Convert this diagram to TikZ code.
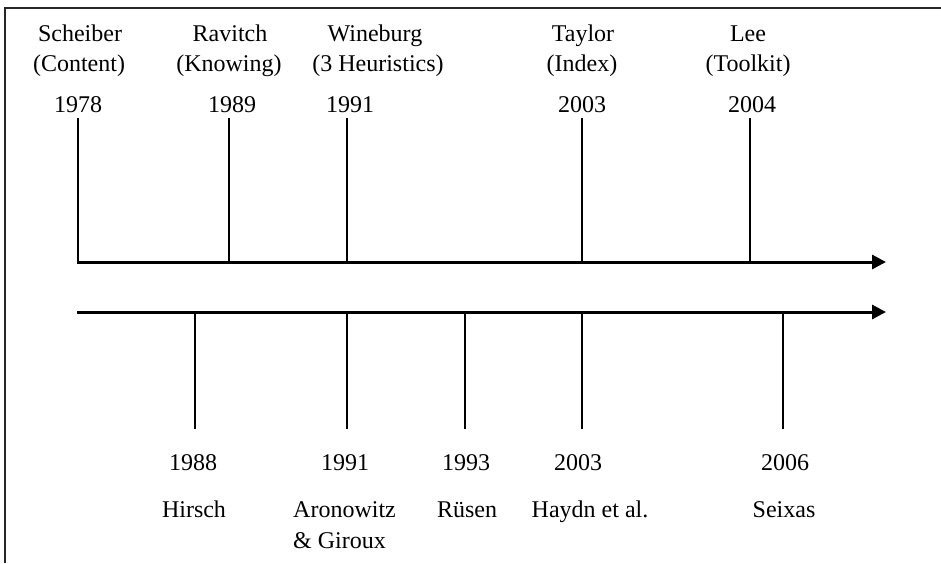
\documentclass[tikz,border=0pt]{standalone}
\usepackage{fontspec}
\setmainfont{Liberation Serif}
\usetikzlibrary{arrows.meta}
\begin{document}
\begin{tikzpicture}[x=1pt,y=-1pt,
  lbl/.style={anchor=base,inner sep=0pt,font=\fontsize{24}{30}\selectfont},
  axis/.style={line width=3pt,-{Triangle[length=14pt,width=14pt]}},
  tick/.style={line width=1.4pt},
  frame/.style={line width=2.4pt,black!85}]
\useasboundingbox (0,0) rectangle (941,563);
\draw[frame] (5,563) -- (5,8) -- (941,8);
% axes
\coordinate (ua) at (77,262);
\coordinate (ub) at (886,262);
\coordinate (la) at (77,312);
\coordinate (lb) at (886,312);
\draw[axis] (ua) -- (ub);
\draw[axis] (la) -- (lb);
% upper ticks
\foreach \n/\x in {t78/78,t89/229,t91/347,t03/582,t04/750}{
  \coordinate (\n a) at (\x,118);
  \coordinate (\n b) at (\x,262);
  \draw[tick] (\n a) -- (\n b);
}
% lower ticks
\foreach \n/\x in {b88/195,b91/347,b93/465,b03/582,b06/783}{
  \coordinate (\n a) at (\x,312);
  \coordinate (\n b) at (\x,429);
  \draw[tick] (\n a) -- (\n b);
}
% upper labels
\node[lbl] (n1) at (80,41) {Scheiber};
\node[lbl] (n1b) at (79,71) {(Content)};
\node[lbl] (y1) at (78,112) {1978};
\node[lbl] (n2) at (230,41) {Ravitch};
\node[lbl] (n2b) at (229,71) {(Knowing)};
\node[lbl] (y2) at (232,112) {1989};
\node[lbl] (n3) at (375,41) {Wineburg};
\node[lbl] (n3b) at (378,71) {(3 Heuristics)};
\node[lbl] (y3) at (350,112) {1991};
\node[lbl] (n4) at (583,41) {Taylor};
\node[lbl] (n4b) at (582,71) {(Index)};
\node[lbl] (y4) at (582,112) {2003};
\node[lbl] (n5) at (748,41) {Lee};
\node[lbl] (n5b) at (748,71) {(Toolkit)};
\node[lbl] (y5) at (752,112) {2004};
% lower labels
\node[lbl] (y6) at (193,470) {1988};
\node[lbl] (n6) at (194,517) {Hirsch};
\node[lbl] (y7) at (345,470) {1991};
\node[lbl,anchor=base west] (n7) at (293,517) {Aronowitz};
\node[lbl,anchor=base west] (n7b) at (293,548) {\& Giroux};
\node[lbl] (y8) at (466,470) {1993};
\node[lbl] (n8) at (467,517) {Rüsen};
\node[lbl] (y9) at (578,470) {2003};
\node[lbl] (n9) at (590,517) {Haydn et al.};
\node[lbl] (y10) at (785,470) {2006};
\node[lbl] (n10) at (784,517) {Seixas};
\end{tikzpicture}
\end{document}
